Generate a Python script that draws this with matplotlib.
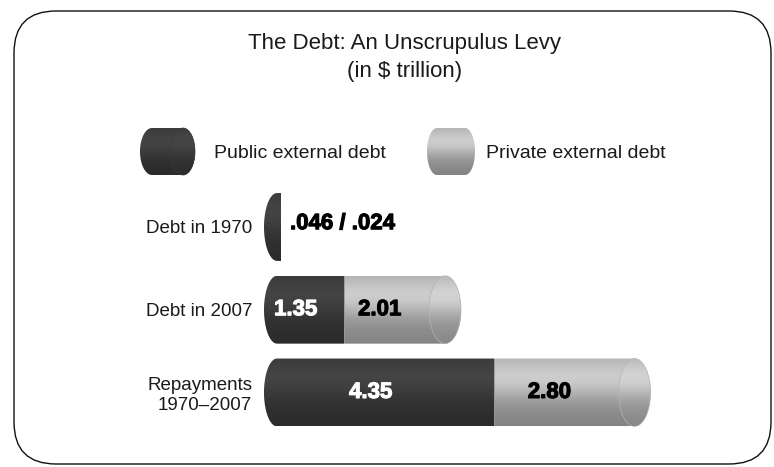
import numpy as np
import matplotlib.pyplot as plt
import matplotlib.patheffects as pe
from matplotlib.patches import FancyBboxPatch, PathPatch, Ellipse
from matplotlib.path import Path

plt.rcParams['font.family'] = ['Liberation Sans', 'DejaVu Sans']

# debt figures, $ trillion
rows = ['Debt in 1970', 'Debt in 2007', 'Repayments\n1970–2007']
public = [0.046, 1.35, 4.35]
private = [0.024, 2.01, 2.80]

DARK = np.array([0.25, 0.25, 0.25])
LIGHT = np.array([0.76, 0.76, 0.76])


def shade(base, n=120):
    # vertical gradient so each bar reads like a lit cylinder
    v = np.linspace(0, 1, n)
    f = 0.84 + 0.26 * np.exp(-((v - 0.3) / 0.3) ** 2) - 0.16 * v
    img = np.clip(base[None, :] * f[:, None], 0, 1)
    return img[:, None, :]


def cyl_path(x0, x1, yc, hh, rxl, rxr):
    pts = []
    if rxl > 0:
        t = np.linspace(np.pi / 2, 3 * np.pi / 2, 50)
        pts += list(zip(x0 + rxl * np.cos(t), yc + hh * np.sin(t)))
    else:
        pts += [(x0, yc + hh), (x0, yc - hh)]
    if rxr > 0:
        t = np.linspace(-np.pi / 2, np.pi / 2, 50)
        pts += list(zip(x1 + rxr * np.cos(t), yc + hh * np.sin(t)))
    else:
        pts += [(x1, yc - hh), (x1, yc + hh)]
    pts.append(pts[0])
    codes = [Path.MOVETO] + [Path.LINETO] * (len(pts) - 2) + [Path.CLOSEPOLY]
    return Path(pts, codes)


def draw_piece(ax, x0, x1, yc, hh, rxl, rxr, base):
    patch = PathPatch(cyl_path(x0, x1, yc, hh, rxl, rxr), facecolor='none',
                      edgecolor='none')
    ax.add_patch(patch)
    im = ax.imshow(shade(base), extent=(x0 - rxl, x1 + rxr, yc + hh, yc - hh),
                   origin='upper', aspect='auto', interpolation='bilinear', zorder=2)
    im.set_clip_path(patch)


def end_face(ax, x, yc, hh, rx, base):
    face = Ellipse((x, yc), 2 * rx, 2 * hh, facecolor='none',
                   edgecolor=np.clip(base * 0.93, 0, 1), lw=0.5, zorder=3)
    ax.add_patch(face)
    im = ax.imshow(shade(np.clip(base * 1.03, 0, 1)),
                   extent=(x - rx, x + rx, yc + hh, yc - hh),
                   origin='upper', aspect='auto', interpolation='bilinear', zorder=2.5)
    im.set_clip_path(face)


fig = plt.figure(figsize=(7.74, 4.67), dpi=100)

# page layer in pixel units: frame, title, legend
bg = fig.add_axes([0, 0, 1, 1])
bg.set_xlim(0, 774)
bg.set_ylim(467, 0)
bg.axis('off')

frame = FancyBboxPatch((14, 11), 757, 453, boxstyle='round,pad=0,rounding_size=42',
                       facecolor='white', edgecolor='#111111', lw=1.0)
bg.add_patch(frame)

bg.text(405, 44, 'The Debt: An Unscrupulus Levy', ha='center', va='center',
        fontsize=16, color='#1a1a1a')
bg.text(405, 71, '(in $ trillion)', ha='center', va='center',
        fontsize=16, color='#1a1a1a')

# legend swatches
draw_piece(bg, 152, 183, 151.5, 23.5, 12, 12, DARK)
end_face(bg, 183, 151.5, 23.5, 12, DARK)
bg.text(214, 153, 'Public external debt', ha='left', va='center',
        fontsize=14, color='#1a1a1a')
draw_piece(bg, 437, 465, 151.5, 23.5, 10, 10, LIGHT)
bg.text(486, 153, 'Private external debt', ha='left', va='center',
        fontsize=14, color='#1a1a1a')

# bar layer in data units (50 px per trillion, zero at x=277 px)
ax = fig.add_axes([262 / 774, (467 - 442.1) / 467, 400 / 774, 264.75 / 467])
ax.set_facecolor('none')

hh = 0.41
rxl, rxr = 0.26, 0.32
bold = dict(fontsize=16, fontweight='bold', ha='center', va='center', zorder=5)

for i, (pub, prv) in enumerate(zip(public, private)):
    total = pub + prv
    big = total > 0.5
    draw_piece(ax, 0, pub, i, hh, rxl, 0, DARK)
    draw_piece(ax, pub, total, i, hh, 0, rxr if big else 0, LIGHT if big else DARK)
    if big:
        end_face(ax, total, i, hh, rxr, LIGHT)
        ax.text(pub / 2 - 0.3, i, f'{pub:.2f}', color='white',
                path_effects=[pe.withStroke(linewidth=0.8, foreground='white')], **bold)
        ax.text(pub + prv / 2 - 0.3, i, f'{prv:.2f}', color='black',
                path_effects=[pe.withStroke(linewidth=0.8, foreground='black')], **bold)
    else:
        label = f'{pub:.3f}'.lstrip('0') + ' / ' + f'{prv:.3f}'.lstrip('0')
        ax.text(total + 0.19, i - 0.04, label, color='black',
                path_effects=[pe.withStroke(linewidth=0.8, foreground='black')],
                **{**bold, 'ha': 'left'})

ax.set_xlim(-0.3, 7.7)
ax.set_ylim(2.6, -0.6)
ax.set_yticks(range(len(rows)), rows)
ax.set_xticks([])
ax.tick_params(axis='y', length=0, pad=7, labelsize=13.5, labelcolor='#1a1a1a')
for s in ax.spines.values():
    s.set_visible(False)

fig.savefig('out.png', dpi=100)
